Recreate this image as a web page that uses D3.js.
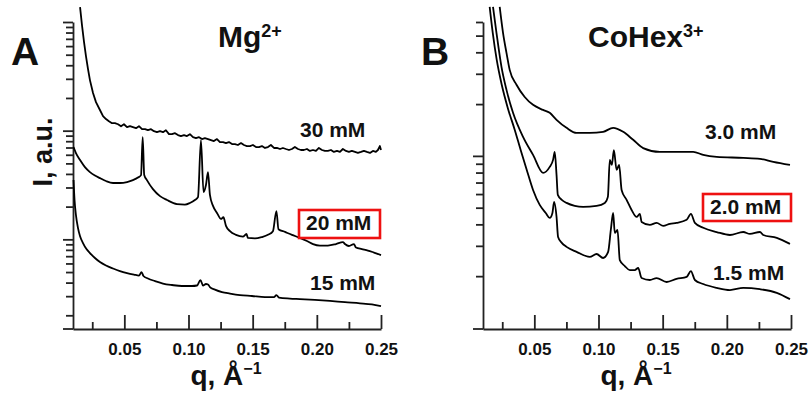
<!DOCTYPE html>
<html>
<head>
<meta charset="utf-8">
<script src="https://cdn.jsdelivr.net/npm/d3@7"></script>
<style>
  body { margin: 0; background: #fff; }
  svg text { font-family: "Liberation Sans", Arial, sans-serif; font-weight: bold; fill: #111; }
</style>
</head>
<body>
<div id="chart"></div>
<script>
// SAXS curves: [q (1/Å), intensity (a.u.)]
const mg30 = [[0.0155,137],[0.0170,93.6],[0.0186,65.4],[0.0201,48.6],[0.0217,36.9],[0.0232,29.2],[0.0256,22.2],[0.0279,18.3],[0.0310,15.5],
  [0.0334,13.6],[0.0357,12.79],[0.0380,12.20],[0.0404,11.71],[0.0427,11.71],[0.0451,11.46],[0.0474,10.99],[0.0497,11.46],[0.0521,10.76],[0.0544,10.99],
  [0.0567,10.76],[0.0591,10.54],[0.0614,10.99],[0.0638,10.32],[0.0661,10.32],[0.0684,10.10],[0.0708,10.32],[0.0731,9.89],[0.0754,9.69],[0.0778,9.89],
  [0.0801,9.69],[0.0824,10.10],[0.0848,9.29],[0.0871,9.29],[0.0895,9.49],[0.0918,9.10],[0.0941,8.91],[0.0965,9.10],[0.0988,8.91],[0.1011,9.29],
  [0.1035,8.72],[0.1058,8.54],[0.1082,8.72],[0.1105,8.37],[0.1128,8.54],[0.1152,8.37],[0.1175,8.19],[0.1198,8.02],[0.1222,8.37],[0.1245,7.85],
  [0.1269,7.85],[0.1292,7.69],[0.1315,7.85],[0.1339,7.53],[0.1362,7.53],[0.1385,7.38],[0.1409,7.69],[0.1432,7.38],[0.1455,7.22],[0.1479,7.22],
  [0.1502,7.38],[0.1526,7.07],[0.1549,7.07],[0.1572,7.22],[0.1596,6.93],[0.1619,7.07],[0.1642,7.38],[0.1666,6.93],[0.1689,6.93],[0.1713,6.78],
  [0.1736,6.93],[0.1759,6.78],[0.1783,6.64],[0.1806,6.78],[0.1829,7.07],[0.1853,6.78],[0.1876,6.64],[0.1899,6.64],[0.1923,6.78],[0.1946,6.51],
  [0.1970,6.64],[0.1993,6.51],[0.2016,6.93],[0.2040,6.64],[0.2063,6.51],[0.2086,6.51],[0.2110,6.64],[0.2133,6.37],[0.2157,6.51],[0.2180,6.37],
  [0.2203,6.78],[0.2227,6.51],[0.2250,6.37],[0.2273,6.51],[0.2297,6.37],[0.2320,6.24],[0.2344,6.37],[0.2367,6.51],[0.2390,6.37],[0.2414,6.24],
  [0.2437,6.51],[0.2460,6.37],[0.2476,6.64],[0.2491,7.22],[0.25,6.64]]
const mg20 = [[0.0104,7.07],[0.0123,6.22],[0.0155,5.36],[0.0193,4.62],[0.0232,4.16],[0.0271,3.86],[0.0310,3.66],[0.0357,3.44],[0.0412,3.30],[0.0466,3.30],[0.0521,3.37],[0.0567,3.51],[0.0606,3.70],[0.0630,3.90],[0.0643,8.7],[0.0655,3.90],[0.0676,3.51],[0.0723,2.90],[0.0778,2.50],[0.0832,2.30],[0.0910,2.11],[0.0972,2.09],[0.1011,2.16],[0.1050,2.30],[0.1074,2.45],[0.1097,8.2],[0.1117,2.72],[0.1136,3.16],[0.1152,4.16],[0.1167,2.56],[0.1191,2.03],[0.1222,1.75],[0.1253,1.54],[0.1272,1.60],[0.1292,1.33],[0.1323,1.19],[0.1370,1.10],[0.1424,1.06],[0.1452,1.12],[0.1463,1.03],[0.1518,1.02],[0.1572,1.05],[0.1619,1.10],[0.1658,1.19],[0.1685,1.82],[0.1701,1.24],[0.1752,1.17],[0.1806,1.10],[0.1868,1.03],[0.1923,0.965],[0.1970,0.905],[0.2024,0.877],[0.2086,0.877],[0.2149,0.905],[0.2203,0.944],[0.2219,0.905],[0.2250,0.868],[0.2289,0.905],[0.2305,0.841],[0.2351,0.814],[0.2398,0.789],[0.2445,0.756],[0.25,0.717]]
const mg15 = [[0.0104,3.51],[0.0112,2.30],[0.0123,1.67],[0.0139,1.27],[0.0155,1.07],[0.0178,0.925],[0.0205,0.814],[0.0232,0.748],[0.0271,0.673],[0.0310,0.618],[0.0357,0.574],[0.0412,0.539],[0.0466,0.511],[0.0521,0.490],[0.0575,0.474],[0.0614,0.464],[0.0634,0.500],[0.0649,0.460],[0.0684,0.436],[0.0739,0.413],[0.0801,0.392],[0.0871,0.380],[0.0949,0.372],[0.1027,0.372],[0.1066,0.376],[0.1093,0.422],[0.1113,0.376],[0.1136,0.388],[0.1152,0.384],[0.1167,0.364],[0.1206,0.345],[0.1261,0.327],[0.1323,0.317],[0.1401,0.307],[0.1494,0.301],[0.1596,0.294],[0.1666,0.294],[0.1685,0.307],[0.1705,0.291],[0.1790,0.285],[0.1868,0.282],[0.1985,0.277],[0.2102,0.271],[0.2219,0.264],[0.2336,0.258],[0.2429,0.252],[0.25,0.243]]

const co30 = [[0.0230,7.35],[0.0256,5.19],[0.0283,3.97],[0.0308,3.16],[0.0361,2.59],[0.0425,2.20],[0.0490,1.98],[0.0568,1.85],[0.0620,1.78],[0.0673,1.62],[0.0751,1.455],[0.0829,1.36],[0.0932,1.36],[0.1036,1.38],[0.1114,1.455],[0.1192,1.38],[0.1270,1.24],[0.1348,1.11],[0.1478,1.055],[0.1609,1.055],[0.1738,1.055],[0.1816,1.013],[0.1921,0.987],[0.2128,0.974],[0.2258,0.961],[0.2362,0.923],[0.2492,0.886]]
const co20 = [[0.0178,7.35],[0.0205,5.19],[0.0244,3.29],[0.0283,2.42],[0.0334,1.78],[0.0412,1.29],[0.0490,1.013],[0.0568,0.797],[0.0620,0.863],[0.0646,0.948],[0.0659,1.055],[0.0673,0.775],[0.0683,0.593],[0.0714,0.555],[0.0751,0.533],[0.0815,0.512],[0.0880,0.505],[0.0985,0.512],[0.1049,0.533],[0.1073,0.578],[0.1088,0.948],[0.1104,0.886],[0.1120,1.08],[0.1141,0.829],[0.1161,0.886],[0.1180,0.634],[0.1219,0.555],[0.1258,0.485],[0.1297,0.442],[0.1322,0.460],[0.1336,0.413],[0.1400,0.397],[0.1453,0.408],[0.1504,0.392],[0.1556,0.403],[0.1608,0.408],[0.1687,0.425],[0.1720,0.460],[0.1751,0.408],[0.1816,0.382],[0.1921,0.361],[0.2024,0.347],[0.2128,0.361],[0.2180,0.352],[0.2258,0.361],[0.2284,0.347],[0.2389,0.334],[0.2492,0.308]]
const co15 = [[0.0152,7.35],[0.0176,5.19],[0.0207,3.61],[0.0246,2.59],[0.0293,1.90],[0.0347,1.42],[0.0394,1.08],[0.0441,0.829],[0.0490,0.634],[0.0542,0.519],[0.0589,0.466],[0.0620,0.436],[0.0641,0.466],[0.0654,0.540],[0.0673,0.442],[0.0685,0.338],[0.0714,0.312],[0.0751,0.296],[0.0829,0.277],[0.0932,0.259],[0.0985,0.269],[0.1036,0.255],[0.1075,0.277],[0.1096,0.371],[0.1114,0.466],[0.1127,0.357],[0.1148,0.371],[0.1166,0.248],[0.1205,0.229],[0.1244,0.217],[0.1283,0.217],[0.1309,0.223],[0.1336,0.195],[0.1400,0.190],[0.1453,0.195],[0.1531,0.185],[0.1608,0.193],[0.1687,0.198],[0.1720,0.214],[0.1751,0.190],[0.1816,0.180],[0.1921,0.171],[0.2024,0.166],[0.2128,0.171],[0.2258,0.168],[0.2389,0.160],[0.2492,0.147]]

// axis ticks
const xMajor = [0.05, 0.10, 0.15, 0.20, 0.25]
const xMinor = [0.025, 0.075, 0.125, 0.175, 0.225]
const yMajorA = [1, 10, 100]
const yMinorA = [0.2,0.3,0.4,0.5,0.6,0.7,0.8,0.9, 2,3,4,5,6,7,8,9, 20,30,40,50,60,70,80,90]
const yMajorB = [1]
const yMinorB = [0.2,0.3,0.4,0.5,0.6,0.7,0.8,0.9, 2,3,4,5,6]

const seriesLabelsA = ['30 mM', '20 mM', '15 mM']
const seriesLabelsB = ['3.0 mM', '2.0 mM', '1.5 mM']

const width = 812, height = 398
const svg = d3.select('#chart').append('svg').attr('width', width).attr('height', height)

const panels = [
  { dx: 0, letter: 'A', ion: 'Mg', charge: '2+', ionX: 218,
    yDomain: [0.1496, 100], yMajor: yMajorA, yMinor: yMinorA,
    series: [mg30, mg20, mg15], labels: seriesLabelsA,
    labelPos: [[300, 137], [306, 230], [310, 290]], box: [299, 210, 81, 28], yTitle: true },
  { dx: 410, letter: 'B', ion: 'CoHex', charge: '3+', ionX: 588,
    yDomain: [0.0986, 6], yMajor: yMajorB, yMinor: yMinorB,
    series: [co30, co20, co15], labels: seriesLabelsB,
    labelPos: [[705, 139], [710, 214], [713, 280]], box: [703, 194, 88, 27], yTitle: false }
]

const plotTop = 22, plotBottom = 329

panels.forEach(p => {
  const x = d3.scaleLinear().domain([0.01, 0.25]).range([p.dx + 73, p.dx + 381])
  const y = d3.scaleLog().domain(p.yDomain).range([plotBottom, plotTop])
  const g = svg.append('g')

  // x axis: ticks point up into the plot
  g.append('g').attr('transform', `translate(0,${plotBottom})`)
    .call(d3.axisBottom(x).tickValues(xMajor).tickSizeInner(-14).tickSizeOuter(0)
      .tickPadding(14).tickFormat(d3.format('.2f')))
    .call(a => a.selectAll('text').style('font-size', '17px').attr('fill', null))
    .attr('font-family', null).attr('font-size', null)
  g.append('g').attr('transform', `translate(0,${plotBottom})`)
    .call(d3.axisBottom(x).tickValues(xMinor).tickSizeInner(-7).tickSizeOuter(0).tickFormat(''))
    .call(a => a.select('.domain').remove())
  // axis line runs a little past the y axis
  g.append('line').attr('x1', x(0.01) - 10).attr('x2', x(0.01))
    .attr('y1', plotBottom).attr('y2', plotBottom).attr('class', 'axline')

  // y axis, log scale, no labels
  g.append('g').attr('transform', `translate(${x(0.01)},0)`)
    .call(d3.axisLeft(y).tickValues(p.yMajor).tickSizeInner(10).tickSizeOuter(0).tickFormat(''))
  g.append('g').attr('transform', `translate(${x(0.01)},0)`)
    .call(d3.axisLeft(y).tickValues(p.yMinor).tickSizeInner(7).tickSizeOuter(0).tickFormat(''))
    .call(a => a.select('.domain').remove())

  g.selectAll('.domain, .tick line, .axline').attr('stroke', '#222').attr('stroke-width', 1.8)

  // curves; the noisy 30 mM trace stays jagged, the others get a light smoothing
  g.selectAll('path.curve').data(p.series).enter().append('path')
    .attr('class', 'curve')
    .attr('d', d => d3.line()
      .curve(d === mg30 ? d3.curveLinear : d3.curveMonotoneX)
      .x(v => x(v[0])).y(v => y(v[1]))(d))
    .attr('fill', 'none').attr('stroke', '#000').attr('stroke-width', 1.8)
    .attr('stroke-linejoin', 'round')

  // curve labels
  p.labels.forEach((t, i) => {
    g.append('text').attr('x', p.labelPos[i][0]).attr('y', p.labelPos[i][1])
      .style('font-size', '21px').text(t)
  })
  g.append('rect').attr('x', p.box[0]).attr('y', p.box[1]).attr('width', p.box[2]).attr('height', p.box[3])
    .attr('fill', 'none').attr('stroke', '#ee1111').attr('stroke-width', 2.6)

  // panel letter and ion
  g.append('text').attr('x', p.dx + 11).attr('y', 65).style('font-size', '39px').text(p.letter)
  const ion = g.append('text').attr('x', p.ionX).attr('y', 47).style('font-size', '30px')
  ion.append('tspan').text(p.ion)
  ion.append('tspan').attr('dy', -10).style('font-size', '18px').text(p.charge)

  // x title
  const xt = g.append('text').attr('x', p.dx + 226).attr('y', 385)
    .attr('text-anchor', 'middle').style('font-size', '28px')
  xt.append('tspan').text('q, Å')
  xt.append('tspan').attr('dy', -11).style('font-size', '16px').text('\u22121')

  if (p.yTitle) {
    g.append('text').attr('transform', 'translate(52,152) rotate(-90)')
      .attr('text-anchor', 'middle').style('font-size', '27px').text('I, a.u.')
  }
})
</script>
</body>
</html>
